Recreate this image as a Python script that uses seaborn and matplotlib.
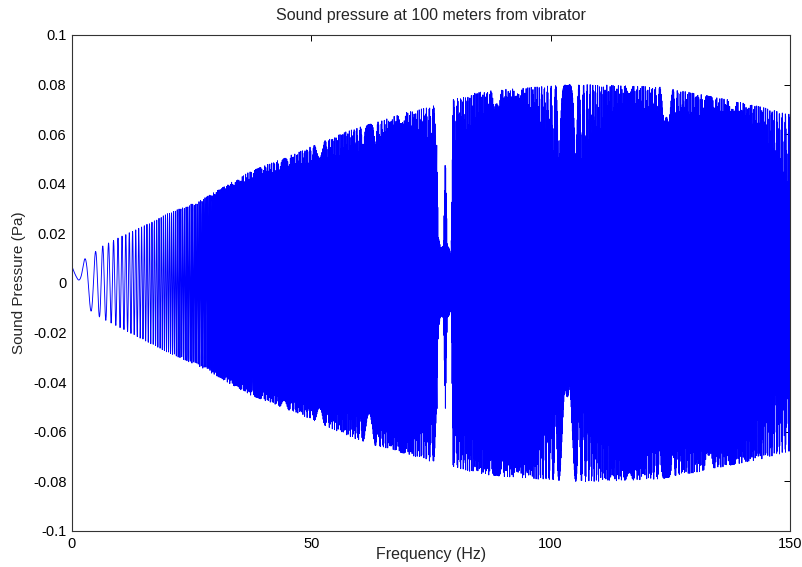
import numpy as np
import pandas as pd
import matplotlib
matplotlib.use("Agg")
import matplotlib.pyplot as plt
import seaborn as sns

# ---------------- data ----------------
title = "Sound pressure at 100 meters from vibrator"
xlabel = "Frequency (Hz)"
ylabel = "Sound Pressure (Pa)"

# linear sweep recorded by a sampled system
sweep_rate_hz_per_s = 8.5      # from the spacing of the first oscillations
sample_rate_hz = 310.4475      # sampling pattern (3 samples/cycle near 103 Hz)
start_phase = -1.12            # first crest near 2.7 Hz
f_max = 150.0

# envelope knots (Pa)
env_freq = [0, 1, 2.7, 4.8, 6, 10, 15, 20, 27, 37, 47.6, 50, 58, 64, 70, 75, 76.2,
            76.5, 77.0, 77.6, 78.0, 78.4, 79.2, 79.6,
            85, 90, 100, 105, 110, 117, 123, 130, 137.5, 144, 148.6, 150]
upper_env = [0.001, 0.003, 0.0095, 0.0125, 0.0145, 0.0185, 0.023, 0.028, 0.0335, 0.0448,
             0.053, 0.055, 0.0617, 0.065, 0.069, 0.071, 0.072,
             0.020, 0.014, 0.015, 0.052, 0.015, 0.016, 0.074,
             0.077, 0.078, 0.0795, 0.080, 0.080, 0.0795, 0.079, 0.0765, 0.0738, 0.071,
             0.0685, 0.068]
lower_env = [0.001, 0.003, 0.0095, 0.0125, 0.0140, 0.018, 0.023, 0.028, 0.0340, 0.0450,
             0.053, 0.055, 0.0620, 0.066, 0.069, 0.072, 0.072,
             0.020, 0.013, 0.014, 0.051, 0.014, 0.015, 0.074,
             0.077, 0.078, 0.0795, 0.080, 0.080, 0.0795, 0.079, 0.0765, 0.0735, 0.071,
             0.0685, 0.068]
# small positive offset at the very start of the sweep
offset_freq = [0, 2, 3]
offset_val = [0.0075, 0.001, 0.0]

xticks = [0, 50, 100, 150]
yticks = [-0.1, -0.08, -0.06, -0.04, -0.02, 0, 0.02, 0.04, 0.06, 0.08, 0.1]
yticklabels = ["-0.1", "-0.08", "-0.06", "-0.04", "-0.02", "0",
               "0.02", "0.04", "0.06", "0.08", "0.1"]

# ---------------- build the sampled sweep ----------------
t = np.arange(0, f_max / sweep_rate_hz_per_s, 1.0 / sample_rate_hz)
freq = sweep_rate_hz_per_s * t
phase = np.pi * sweep_rate_hz_per_s * t ** 2 + start_phase
carrier = np.sin(phase)
env_u = np.interp(freq, env_freq, upper_env)
env_l = np.interp(freq, env_freq, lower_env)
offs = np.interp(freq, offset_freq, offset_val)
pressure = offs + np.where(carrier >= 0, env_u, env_l) * carrier
df = pd.DataFrame({"Frequency": freq, "Pressure": pressure})

# ---------------- draw ----------------
sns.set_style("white")
plt.rcParams["font.family"] = ["Liberation Sans", "DejaVu Sans"]

fig = plt.figure(figsize=(8.03, 5.67), dpi=100)
ax = fig.add_axes([72 / 803, 1 - 531 / 567, (790 - 72) / 803, (531 - 35) / 567])

sns.lineplot(data=df, x="Frequency", y="Pressure", estimator=None, sort=False,
             color=(0, 0, 1), linewidth=0.65, ax=ax)

ax.set_xlim(0, 150)
ax.set_ylim(-0.1, 0.1)
ax.set_xticks(xticks)
ax.set_xticklabels([str(v) for v in xticks])
ax.set_yticks(yticks)
ax.set_yticklabels(yticklabels)
ax.tick_params(direction="in", length=4, width=0.7, top=True, right=True,
               labelsize=10.5, colors="black", pad=4)
for sp in ax.spines.values():
    sp.set_visible(True)
    sp.set_color("#333333")
    sp.set_linewidth(0.8)

ax.set_title(title, fontsize=11.5, pad=11)
ax.set_xlabel(xlabel, fontsize=11.5)
ax.xaxis.set_label_coords(0.5, -0.033)
ax.set_ylabel(ylabel, fontsize=11, labelpad=5)

fig.savefig("out.png", dpi=100, facecolor="white")
